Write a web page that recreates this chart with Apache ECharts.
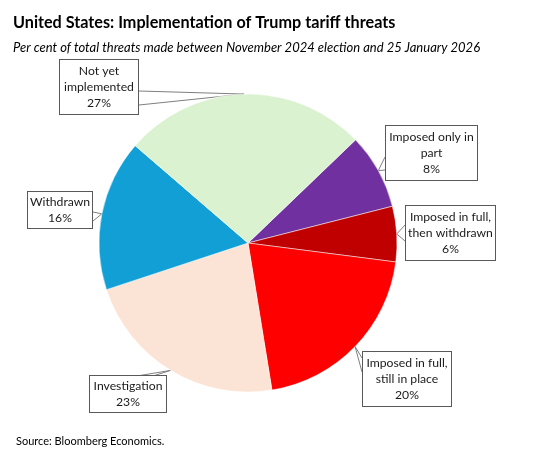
<!DOCTYPE html>
<html><head><meta charset="utf-8">
<script src="https://cdn.jsdelivr.net/npm/echarts@6/dist/echarts.min.js"></script>
<style>html,body{margin:0;padding:0;background:#fff}#c{width:548px;height:454px}</style>
</head><body><div id="c"></div>
<script>
// Data (clockwise from the purple slice)
const categories = ['Imposed only in\npart', 'Imposed in full,\nthen withdrawn', 'Imposed in full,\nstill in place', 'Investigation', 'Withdrawn', 'Not yet\nimplemented'];
const shares = [8.2, 6.0, 20.4, 22.5, 16.4, 26.5];
const colors = ['#7030A0', '#C00000', '#FF0000', '#FBE3D6', '#119FD6', '#DAF2D0'];

const titleText = 'United States: Implementation of Trump tariff threats';
const subtitleText = 'Per cent of total threats made between November 2024 election and 25 January 2026';
const sourceText = 'Source: Bloomberg Economics.';

// Callout box placement (style/layout only)
const callouts = [
  {x: 385, y: 126, w: 93, pad: 3, side: 'left',  a: 31, b: 44},
  {x: 405, y: 206, w: 91, pad: 3, side: 'left',  a: 19, b: 35},
  {x: 362, y: 352, w: 90, pad: 3, side: 'left',  a: 6,  b: 20},
  {x: 89,  y: 376, w: 78, pad: 2, side: 'top',   a: 48, b: 64},
  {x: 27,  y: 192, w: 66, pad: 2, side: 'right', a: 20, b: 29},
  {x: 59,  y: 60,  w: 80, pad: 3, side: 'right', a: 31, b: 45}
];

const FONT = 'Lato';
const chart = echarts.init(document.getElementById('c'), null, {renderer: 'canvas'});

const data = categories.map((name, i) => ({
  name: name,
  value: shares[i],
  itemStyle: {color: colors[i]},
  label: {
    width: callouts[i].w - 10,
    padding: [callouts[i].pad, 4, callouts[i].pad, 4]
  }
}));

chart.setOption({
  animation: false,
  backgroundColor: '#fff',
  title: [
    {text: titleText, left: 8, top: 10,
     textStyle: {fontFamily: FONT, fontWeight: 'bold', fontSize: 16.2, color: '#000'}},
    {text: subtitleText, left: 8, top: 36,
     textStyle: {fontFamily: FONT, fontStyle: 'italic', fontWeight: 'normal', fontSize: 13, color: '#000'}},
    {text: sourceText, left: 11, top: 431,
     textStyle: {fontFamily: FONT, fontWeight: 'normal', fontSize: 11, color: '#000'}}
  ],
  series: [{
    type: 'pie',
    center: [248, 243],
    radius: 149,
    startAngle: 43.8,
    clockwise: true,
    avoidLabelOverlap: false,
    itemStyle: {borderColor: '#fff', borderWidth: 0.5},
    emphasis: {disabled: true},
    label: {
      show: true,
      position: 'outside',
      formatter: p => p.name + '\n' + Math.round(p.value) + '%',
      fontFamily: FONT,
      fontSize: 12.2,
      lineHeight: 16,
      color: '#1a1a1a',
      align: 'center',
      overflow: 'none',
      backgroundColor: '#fff',
      borderColor: '#595959',
      borderWidth: 1
    },
    labelLine: {show: true, length: 10, length2: 10, lineStyle: {color: '#7f7f7f', width: 1}},
    labelLayout: function (params) {
      const c = callouts[params.dataIndex];
      let A, B;
      if (c.side === 'left') { A = [c.x, c.y + c.a]; B = [c.x, c.y + c.b]; }
      else if (c.side === 'right') { A = [c.x + c.w, c.y + c.a]; B = [c.x + c.w, c.y + c.b]; }
      else { A = [c.x + c.a, c.y]; B = [c.x + c.b, c.y]; }
      const res = {x: c.x + c.w / 2, y: c.y, align: 'center', verticalAlign: 'top'};
      if (params.labelLinePoints && params.labelLinePoints.length) {
        const tip = params.labelLinePoints[0];
        res.labelLinePoints = [A, [tip[0], tip[1]], B];
      }
      return res;
    },
    data: data
  }]
});
</script>
</body></html>
